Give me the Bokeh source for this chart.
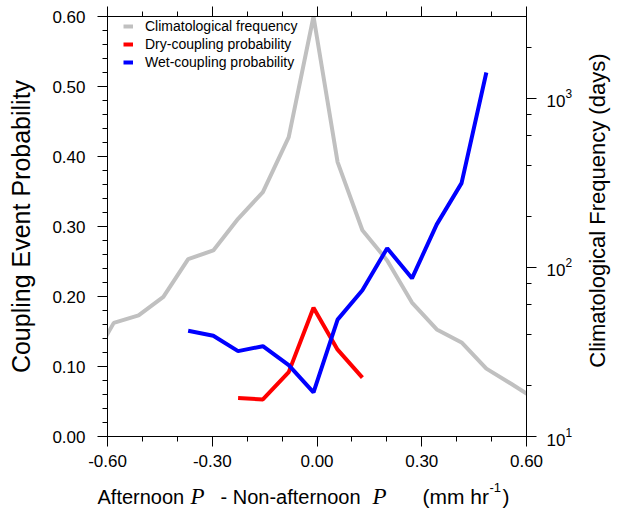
import math
from bokeh.plotting import figure
from bokeh.layouts import row, column
from bokeh.models import (Range1d, LogScale, LogAxis, LinearAxis, FixedTicker,
                          PrintfTickFormatter, CustomJSTickFormatter, Legend, LegendItem)
from bokeh.core.properties import value
from bokeh.embed import file_html
from bokeh.resources import INLINE

# ---------------- data ----------------
clim_x = [-0.653, -0.582, -0.511, -0.440, -0.369, -0.297, -0.226, -0.155, -0.081,
          -0.010, 0.059, 0.130, 0.201, 0.272, 0.343, 0.414, 0.485, 0.556, 0.627]
clim_freq = [26, 47, 52, 67, 112, 126, 194, 279, 590,
             3050, 420, 166, 110, 62, 43, 36, 25.2, 20.5, 16.5]

dry_x = [-0.226, -0.155, -0.081, -0.010, 0.059, 0.130]
dry_prob = [0.055, 0.053, 0.092, 0.184, 0.124, 0.084]

wet_x = [-0.369, -0.297, -0.226, -0.155, -0.081, -0.010, 0.059,
         0.130, 0.201, 0.272, 0.343, 0.414, 0.485]
wet_prob = [0.151, 0.144, 0.122, 0.129, 0.102, 0.063, 0.167,
            0.209, 0.269, 0.226, 0.303, 0.362, 0.520]

x_ticks = [-0.6, -0.3, 0.0, 0.3, 0.6]
x_minor = [-0.5, -0.4, -0.2, -0.1, 0.1, 0.2, 0.4, 0.5]
y_ticks = [0.0, 0.1, 0.2, 0.3, 0.4, 0.5, 0.6]
y_minor = [round(0.02 * i, 2) for i in range(31) if i % 5 != 0]
freq_ticks = [10, 100, 1000]
freq_minor = [20, 40, 60, 80, 200, 400, 600, 800, 2000]

legend_labels = ["Climatological frequency", "Dry-coupling probability", "Wet-coupling probability"]
y_title = "Coupling Event Probability"
y2_title = "Climatological Frequency (days)"
x_title_parts = ["Afternoon", "P", "- Non-afternoon", "P", "(mm hr", "-1", ")"]

# ---------------- layout ----------------
FONT = "Liberation Sans"
TOTAL_W, TOTAL_H = 617, 516
MAIN_W, MAIN_H = 575, 476
SIDE_W = TOTAL_W - MAIN_W
BOT_H = TOTAL_H - MAIN_H
L, T = 107, 16
R = MAIN_W - 528
B = MAIN_H - 436
FH = MAIN_H - T - B

p = figure(width=MAIN_W, height=MAIN_H, output_backend="svg", toolbar_location=None,
           x_range=Range1d(-0.6, 0.6), y_range=Range1d(0.0, 0.6),
           min_border_left=L, min_border_right=R, min_border_top=T, min_border_bottom=B)
p.extra_y_ranges = {"freq": Range1d(10, 3050)}
p.extra_y_scales = {"freq": LogScale()}
p.xgrid.visible = False
p.ygrid.visible = False
p.outline_line_color = "black"
p.outline_line_alpha = 1.0
p.outline_line_width = 1
p.background_fill_color = "white"
p.border_fill_color = "white"


def style(ax, size="17px"):
    ax.axis_line_color = "black"
    ax.axis_line_width = 1
    ax.major_tick_in = 0
    ax.major_tick_out = 10
    ax.minor_tick_in = 0
    ax.minor_tick_out = 5
    ax.major_tick_line_color = "black"
    ax.minor_tick_line_color = "black"
    ax.major_label_text_font = FONT
    ax.major_label_text_font_size = size
    ax.major_label_text_color = "black"


xb = p.xaxis[0]
xb.ticker = FixedTicker(ticks=x_ticks, minor_ticks=x_minor)
xb.formatter = PrintfTickFormatter(format="%.2f")
style(xb)
xb.major_label_standoff = 8

xt = LinearAxis(ticker=FixedTicker(ticks=x_ticks, minor_ticks=x_minor),
                formatter=CustomJSTickFormatter(code="return ''"))
style(xt, "10px")
xt.major_label_standoff = 0
p.add_layout(xt, "above")

yl = p.yaxis[0]
yl.ticker = FixedTicker(ticks=y_ticks, minor_ticks=y_minor)
yl.formatter = PrintfTickFormatter(format="%.2f")
style(yl)
yl.major_label_standoff = 12
yl.axis_label = y_title
yl.axis_label_text_font = FONT
yl.axis_label_text_font_size = "25px"
yl.axis_label_text_font_style = "normal"
yl.axis_label_text_color = "black"
yl.axis_label_standoff = 14

yr = LogAxis(y_range_name="freq", ticker=FixedTicker(ticks=freq_ticks, minor_ticks=freq_minor))
style(yr)
yr.major_label_standoff = 10
p.add_layout(yr, "right")

# ---------------- lines ----------------
r_clim = p.line(clim_x, clim_freq, y_range_name="freq", line_color="#c0c0c0", line_width=4)
r_dry = p.line(dry_x, dry_prob, line_color="#ff0000", line_width=4)
r_wet = p.line(wet_x, wet_prob, line_color="#0000ff", line_width=4)

legend = Legend(items=[LegendItem(label=legend_labels[0], renderers=[r_clim]),
                       LegendItem(label=legend_labels[1], renderers=[r_dry]),
                       LegendItem(label=legend_labels[2], renderers=[r_wet])],
                location=(16, FH - 55), orientation="vertical",
                padding=0, margin=0, spacing=0,
                glyph_width=10, glyph_height=18, label_height=18, label_standoff=12,
                label_text_font=FONT, label_text_font_size="14px", label_text_color="black",
                border_line_alpha=0, background_fill_alpha=0)
p.add_layout(legend)


def blank(w, h):
    f = figure(width=w, height=h, output_backend="svg", toolbar_location=None,
               x_range=Range1d(0, w), y_range=Range1d(0, h),
               x_axis_location=None, y_axis_location=None,
               min_border=0, min_border_left=0, min_border_right=0,
               min_border_top=0, min_border_bottom=0)
    f.grid.visible = False
    f.outline_line_color = None
    f.background_fill_color = "white"
    f.border_fill_color = "white"
    return f


# ---------------- right axis title strip ----------------
pr = blank(SIDE_W, MAIN_H)
pr.text(x=[597 - MAIN_W], y=[MAIN_H - 220], text=[y2_title], angle=math.pi / 2,
        text_font=value(FONT), text_font_size="22px", text_color="black",
        text_align="center", text_baseline="middle")

# ---------------- x axis title strip (mixed fonts), canvas-pixel coordinates ----------------
pb = blank(TOTAL_W, BOT_H)
base = BOT_H - (496 - MAIN_H)
pb.text(x=[97, 220], y=[base] * 2, text=[x_title_parts[0], x_title_parts[2]],
        text_font=value(FONT), text_font_size="20px", text_color="black",
        text_align="left", text_baseline="alphabetic")
pb.text(x=[190, 372], y=[base] * 2, text=[x_title_parts[1], x_title_parts[3]],
        text_font=value("Liberation Serif"), text_font_style="italic",
        text_font_size="23px", text_color="black",
        text_align="left", text_baseline="alphabetic")
pb.text(x=[422, 502], y=[base] * 2, text=[x_title_parts[4], x_title_parts[6]],
        text_font=value(FONT), text_font_size="21px", text_color="black",
        text_align="left", text_baseline="alphabetic")
pb.text(x=[489], y=[base + 9], text=[x_title_parts[5]],
        text_font=value(FONT), text_font_size="13px", text_color="black",
        text_align="left", text_baseline="alphabetic")

layout = column(row(p, pr, spacing=0), row(pb, spacing=0), spacing=0)
open("out.html", "w").write(file_html(layout, INLINE))
